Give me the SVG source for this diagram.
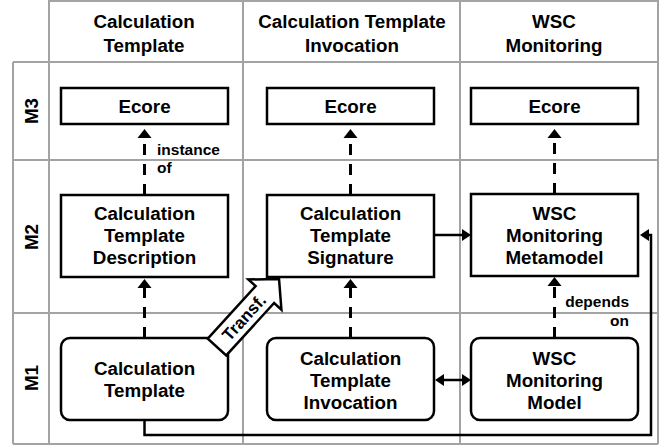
<svg xmlns="http://www.w3.org/2000/svg" width="661" height="446" viewBox="0 0 661 446">
<style>
text{font-family:"Liberation Sans",Arial,Helvetica,sans-serif;font-weight:bold;fill:#000}
.h{font-size:18.8px;text-anchor:middle}
.n{font-size:18.8px;text-anchor:middle}
.l{font-size:15.5px}
.grid line{stroke:#a3a3a3;stroke-width:2}
.box{fill:#fff;stroke:#000;stroke-width:2.5}
.dash{fill:none;stroke:#000;stroke-width:3;stroke-dasharray:11 9}
.solid{fill:none;stroke:#000;stroke-width:2.5}
</style>
<defs>
<marker id="ah" markerUnits="userSpaceOnUse" markerWidth="12" markerHeight="16" refX="0" refY="8" orient="auto-start-reverse" viewBox="0 0 12 16">
<path d="M0,1 L9,8 L0,15 z" fill="#000"/>
</marker>
<marker id="ahs" markerUnits="userSpaceOnUse" markerWidth="12" markerHeight="16" refX="0" refY="8" orient="auto-start-reverse" viewBox="0 0 12 16">
<path d="M0,2 L9,8 L0,14 z" fill="#000"/>
</marker>
</defs>
<rect x="0" y="0" width="661" height="446" fill="#fff"/>
<g class="grid">
<line x1="49" y1="1" x2="658" y2="1"/>
<line x1="13" y1="62" x2="658" y2="62"/>
<line x1="13" y1="160" x2="658" y2="160"/>
<line x1="13" y1="313" x2="658" y2="313"/>
<line x1="13" y1="444" x2="658" y2="444"/>
<line x1="13" y1="62" x2="13" y2="444"/>
<line x1="49" y1="0" x2="49" y2="444"/>
<line x1="243" y1="0" x2="243" y2="444"/>
<line x1="460" y1="0" x2="460" y2="444"/>
<line x1="658" y1="0" x2="658" y2="444"/>
</g>
<g id="headers">
<text class="h" x="144" y="28">Calculation</text>
<text class="h" x="144" y="52">Template</text>
<text class="h" x="352" y="28">Calculation Template</text>
<text class="h" x="352" y="52">Invocation</text>
<text class="h" x="554" y="28">WSC</text>
<text class="h" x="554" y="52">Monitoring</text>
<text class="h" transform="translate(37.5,111) rotate(-90)">M3</text>
<text class="h" transform="translate(37.5,237) rotate(-90)">M2</text>
<text class="h" transform="translate(37.5,378) rotate(-90)">M1</text>
</g>
<g id="connectors">
<path class="dash" d="M144.5,195 V138" marker-end="url(#ah)"/>
<path class="dash" d="M144.5,338 V288" marker-end="url(#ah)"/>
<path class="dash" d="M350.5,195 V138" marker-end="url(#ah)"/>
<path class="dash" d="M350.5,338 V288" marker-end="url(#ah)"/>
<path class="dash" d="M554.5,194 V138" marker-end="url(#ah)"/>
<path class="dash" d="M554.5,338 V286" marker-end="url(#ah)"/>
<path class="solid" d="M434,235 H462" marker-end="url(#ahs)"/>
<path class="solid" d="M444,380 H462" marker-start="url(#ahs)" marker-end="url(#ahs)"/>
<path class="solid" d="M144.5,420 V435 H651 V235 H649" marker-end="url(#ahs)"/>
<text class="l" x="157" y="155">instance</text>
<text class="l" x="157" y="173">of</text>
<text class="l" x="629" y="307" text-anchor="end">depends</text>
<text class="l" x="629" y="326" text-anchor="end">on</text>
</g>
<g id="ecore1"><rect class="box" x="61" y="88" width="167" height="36"/><text class="n" x="144.5" y="112.5">Ecore</text></g>
<g id="ecore2"><rect class="box" x="267" y="88" width="167" height="36"/><text class="n" x="350.5" y="112.5">Ecore</text></g>
<g id="ecore3"><rect class="box" x="471" y="88" width="167" height="36"/><text class="n" x="554.5" y="112.5">Ecore</text></g>
<g id="ctdesc"><rect class="box" x="61" y="195" width="167" height="82"/>
<text class="n" x="144.5" y="220">Calculation</text><text class="n" x="144.5" y="242">Template</text><text class="n" x="144.5" y="264">Description</text></g>
<g id="ctsig"><rect class="box" x="267" y="195" width="167" height="82"/>
<text class="n" x="350.5" y="220">Calculation</text><text class="n" x="350.5" y="242">Template</text><text class="n" x="350.5" y="264">Signature</text></g>
<g id="wscmm"><rect class="box" x="471" y="194" width="167" height="82"/>
<text class="n" x="554.5" y="220">WSC</text><text class="n" x="554.5" y="242">Monitoring</text><text class="n" x="554.5" y="264">Metamodel</text></g>
<g id="ct"><rect class="box" x="61" y="338" width="167" height="82" rx="9"/>
<text class="n" x="144.5" y="375">Calculation</text><text class="n" x="144.5" y="397">Template</text></g>
<g id="cti"><rect class="box" x="267" y="338" width="167" height="82" rx="9"/>
<text class="n" x="350.5" y="365">Calculation</text><text class="n" x="350.5" y="387">Template</text><text class="n" x="350.5" y="409">Invocation</text></g>
<g id="wscm"><rect class="box" x="471" y="338" width="167" height="82" rx="9"/>
<text class="n" x="554.5" y="365">WSC</text><text class="n" x="554.5" y="387">Monitoring</text><text class="n" x="554.5" y="409">Model</text></g>
<g id="transf" transform="translate(217,347) rotate(-47.6)">
<polygon points="0,-12.5 71,-12.5 71,-22.4 92,0 71,22.4 71,12.5 0,12.5" fill="#fff" stroke="#000" stroke-width="2.5" stroke-linejoin="miter"/>
<text x="40" y="6" font-size="17" text-anchor="middle">Transf.</text>
</g>
</svg>
